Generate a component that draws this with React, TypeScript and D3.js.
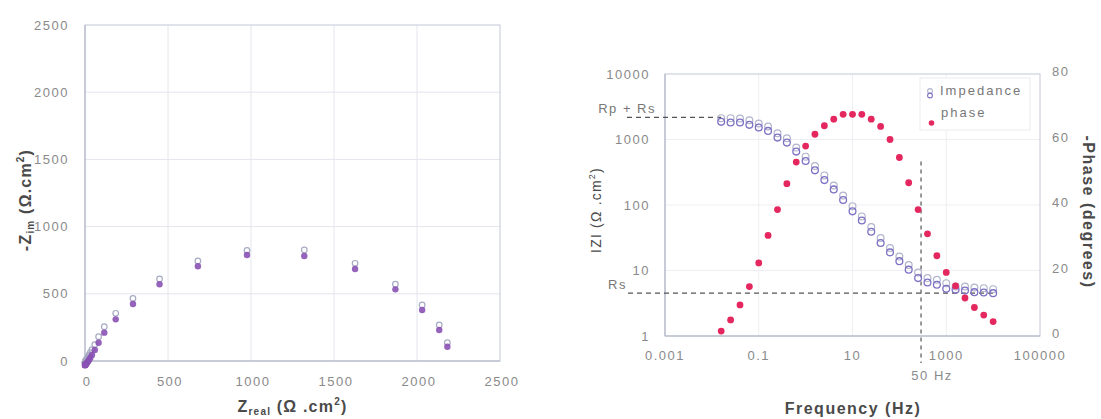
import React, { useEffect, useRef } from 'react';
import * as d3 from 'd3';

// Nyquist plot (left)
const nyqReal = [2183, 2134, 2031, 1870, 1627, 1321, 976, 680, 449, 289, 185, 116, 82, 59, 42, 32, 25, 19, 14, 10, 7, 5, 4, 3, 2, 1.5, 1, 0.5, 0.2, 0];
const nyqImFit = [106, 231, 379, 533, 684, 781, 789, 705, 571, 424, 310, 211, 136, 82, 45, 25, 10, -2, -10, -16, -20, -23, -25, -27, -28, -29, -30, -30, -31, -31];
const nyqImMeas = [136, 268, 417, 571, 727, 826, 823, 744, 610, 466, 355, 255, 181, 122, 85, 62, 45, 32, 22, 14, 8, 4, 0, -3, -6, -8, -10, -11, -12, -13];
const nyqTicks = [0, 500, 1000, 1500, 2000, 2500];

// Bode plot (right)
const freq = [0.0158, 0.0251, 0.0398, 0.0631, 0.1, 0.158, 0.251, 0.398, 0.631, 1, 1.58, 2.51, 3.98, 6.31, 10, 15.8, 25.1, 39.8, 63.1, 100, 158, 251, 398, 631, 1000, 1580, 2510, 3980, 6310, 10000];
const zMeas = [2118, 2118, 2093, 1972, 1754, 1578, 1247, 1045, 752, 547, 394, 283, 199, 140, 96, 67, 46, 31.4, 22.1, 16.4, 12.1, 9.3, 7.65, 7.21, 6.41, 5.7, 5.7, 5.51, 5.38, 5.19];
const zFit = [1860, 1816, 1816, 1673, 1523, 1354, 1070, 897, 653, 470, 338, 240, 173, 119, 80, 58, 39, 26.3, 18.9, 13.9, 10.3, 7.65, 6.57, 6.05, 5.25, 5.07, 4.95, 4.67, 4.61, 4.51];
const phase = [1.5, 4.9, 9.5, 15.1, 22.3, 30.7, 38.6, 46.5, 53.1, 58.0, 61.6, 64.2, 66.2, 67.7, 67.7, 67.7, 66.2, 64.0, 60.0, 54.5, 46.8, 38.6, 31.2, 24.5, 19.4, 15.3, 11.6, 8.7, 6.4, 4.4];
const freqTicks = [0.001, 0.1, 10, 1000, 100000];
const freqLabels = ['0.001', '0.1', '10', '1000', '100000'];
const zTicks = [1, 10, 100, 1000, 10000];
const phaseTicks = [0, 20, 40, 60, 80];
const rpRs = 2170;
const rs = 4.5;
const markFreq = 290;
const markTopZ = 460;

const FONT = '"Liberation Sans", Arial, sans-serif';
const TICK = '#8a8a8a';
const TITLE = '#4a4a4a';

const App = () => {
  const ref = useRef<SVGSVGElement>(null);

  useEffect(() => {
    const svg = d3.select(ref.current);
    svg.selectAll('*').remove();
    svg.attr('font-family', FONT);

    // ---------- left: Nyquist ----------
    const xL = d3.scaleLinear().domain([0, 2500]).range([85, 500]);
    const yL = d3.scaleLinear().domain([0, 2500]).range([361, 25]);
    const L = svg.append('g');

    L.append('g').selectAll('line.v').data(nyqTicks.slice(1, -1)).join('line')
      .attr('x1', d => xL(d)).attr('x2', d => xL(d)).attr('y1', yL(0)).attr('y2', yL(2500))
      .attr('stroke', '#e4e5ee');
    L.append('g').selectAll('line.h').data(nyqTicks.slice(1, -1)).join('line')
      .attr('x1', xL(0)).attr('x2', xL(2500)).attr('y1', d => yL(d)).attr('y2', d => yL(d))
      .attr('stroke', '#e4e5ee');
    L.append('rect')
      .attr('x', xL(0)).attr('y', yL(2500)).attr('width', xL(2500) - xL(0)).attr('height', yL(0) - yL(2500))
      .attr('fill', 'none').attr('stroke', '#c4c7d6');
    L.append('line').attr('x1', xL(0)).attr('x2', xL(0)).attr('y1', yL(0)).attr('y2', yL(2500)).attr('stroke', '#aeb2c4');
    L.append('line').attr('x1', xL(0)).attr('x2', xL(2500)).attr('y1', yL(0)).attr('y2', yL(0)).attr('stroke', '#aeb2c4');

    L.append('g').selectAll('text').data(nyqTicks).join('text')
      .attr('x', 69).attr('y', d => yL(d) + 4.5).attr('text-anchor', 'end')
      .attr('font-size', 13).attr('letter-spacing', 1.5).attr('fill', TICK).text(d => d);
    L.append('g').selectAll('text').data(nyqTicks).join('text')
      .attr('x', d => xL(d) + 2).attr('y', 386).attr('text-anchor', 'middle')
      .attr('font-size', 13).attr('letter-spacing', 1.5).attr('fill', TICK).text(d => d);

    L.append('g').selectAll('circle').data(nyqReal).join('circle')
      .attr('cx', d => xL(d)).attr('cy', (d, i) => yL(nyqImMeas[i])).attr('r', 2.8)
      .attr('fill', 'none').attr('stroke', '#a7abc2').attr('stroke-width', 1.2);
    L.append('g').selectAll('circle').data(nyqReal).join('circle')
      .attr('cx', d => xL(d)).attr('cy', (d, i) => yL(nyqImFit[i])).attr('r', 3.2)
      .attr('fill', '#8a52b4').attr('opacity', 0.9);

    const xt = L.append('text').attr('x', (xL(0) + xL(2500)) / 2).attr('y', 412).attr('text-anchor', 'middle')
      .attr('font-size', 16).attr('font-weight', 'bold').attr('letter-spacing', 1.2).attr('fill', TITLE);
    xt.append('tspan').text('Z');
    xt.append('tspan').attr('font-size', 10).attr('dy', 3).text('real');
    xt.append('tspan').attr('dy', -3).text(' (Ω .cm');
    xt.append('tspan').attr('font-size', 10).attr('dy', -7).text('2');
    xt.append('tspan').attr('dy', 7).text(')');

    const yt = L.append('text').attr('transform', 'translate(31,200) rotate(-90)').attr('text-anchor', 'middle')
      .attr('font-size', 16).attr('font-weight', 'bold').attr('letter-spacing', 1.2).attr('fill', TITLE);
    yt.append('tspan').text('-Z');
    yt.append('tspan').attr('font-size', 10).attr('dy', 3).text('im');
    yt.append('tspan').attr('dy', -3).text(' (Ω.cm');
    yt.append('tspan').attr('font-size', 10).attr('dy', -7).text('2');
    yt.append('tspan').attr('dy', 7).text(')');

    // ---------- right: Bode ----------
    const xR = d3.scaleLog().domain([0.001, 100000]).range([665, 1040]);
    const yR = d3.scaleLog().domain([1, 10000]).range([336, 74]);
    const yP = d3.scaleLinear().domain([0, 80]).range([336, 74]);
    const R = svg.append('g');

    R.append('g').selectAll('line').data(freqTicks.slice(1, -1)).join('line')
      .attr('x1', d => xR(d)).attr('x2', d => xR(d)).attr('y1', yR(1)).attr('y2', yR(10000))
      .attr('stroke', '#efeff3');
    R.append('g').selectAll('line').data(zTicks.slice(1, -1)).join('line')
      .attr('x1', xR(0.001)).attr('x2', xR(100000)).attr('y1', d => yR(d)).attr('y2', d => yR(d))
      .attr('stroke', '#efeff3');
    R.append('rect')
      .attr('x', xR(0.001)).attr('y', yR(10000)).attr('width', xR(100000) - xR(0.001)).attr('height', yR(1) - yR(10000))
      .attr('fill', 'none').attr('stroke', '#c4c7d6');
    R.append('line').attr('x1', xR(0.001)).attr('x2', xR(100000)).attr('y1', yR(1)).attr('y2', yR(1)).attr('stroke', '#aeb2c4');
    R.append('line').attr('x1', xR(0.001)).attr('x2', xR(0.001)).attr('y1', yR(1)).attr('y2', yR(10000)).attr('stroke', '#aeb2c4');

    R.append('g').selectAll('text').data(freqTicks).join('text')
      .attr('x', d => xR(d)).attr('y', 360).attr('text-anchor', 'middle')
      .attr('font-size', 13).attr('letter-spacing', 1.5).attr('fill', TICK).text((d, i) => freqLabels[i]);
    R.append('g').selectAll('text').data(zTicks).join('text')
      .attr('x', 650).attr('y', d => yR(d) + 4.5).attr('text-anchor', 'end')
      .attr('font-size', 13).attr('letter-spacing', 1.5).attr('fill', TICK).text(d => d);
    R.append('g').selectAll('text').data(phaseTicks).join('text')
      .attr('x', 1052).attr('y', d => yP(d) + 2).attr('text-anchor', 'start')
      .attr('font-size', 13).attr('letter-spacing', 1.5).attr('fill', TICK).text(d => d);

    // reference lines
    const dash = { stroke: '#555', 'stroke-width': 1.2, 'stroke-dasharray': '5,4' };
    const l1 = R.append('line').attr('x1', 627).attr('x2', xR(freq[0])).attr('y1', yR(rpRs)).attr('y2', yR(rpRs));
    const l2 = R.append('line').attr('x1', 628).attr('x2', xR(freq[freq.length - 1]) + 4).attr('y1', yR(rs)).attr('y2', yR(rs));
    [l1, l2].forEach(l => Object.entries(dash).forEach(([k, v]) => l.attr(k, v)));
    R.append('line').attr('x1', xR(markFreq)).attr('x2', xR(markFreq)).attr('y1', yR(markTopZ)).attr('y2', yR(1) + 27)
      .attr('stroke', '#555').attr('stroke-width', 1.2).attr('stroke-dasharray', '4,4');

    R.append('text').attr('x', 656).attr('y', 113).attr('text-anchor', 'end')
      .attr('font-size', 13).attr('letter-spacing', 1.5).attr('fill', '#777').text('Rp + Rs');
    R.append('text').attr('x', 627).attr('y', yR(rs) - 4).attr('text-anchor', 'end')
      .attr('font-size', 13).attr('letter-spacing', 1.5).attr('fill', '#777').text('Rs');
    R.append('text').attr('x', xR(markFreq) + 11).attr('y', 380).attr('text-anchor', 'middle')
      .attr('font-size', 13).attr('letter-spacing', 1.5).attr('fill', TICK).text('50 Hz');

    // data
    R.append('g').selectAll('circle').data(freq).join('circle')
      .attr('cx', d => xR(d)).attr('cy', (d, i) => yR(zMeas[i])).attr('r', 3.4)
      .attr('fill', 'none').attr('stroke', '#b0b4cc').attr('stroke-width', 1.2);
    R.append('g').selectAll('circle').data(freq).join('circle')
      .attr('cx', d => xR(d)).attr('cy', (d, i) => yR(zFit[i])).attr('r', 3.4)
      .attr('fill', 'none').attr('stroke', '#7e70c4').attr('stroke-width', 1.3);
    R.append('g').selectAll('circle').data(freq).join('circle')
      .attr('cx', d => xR(d)).attr('cy', (d, i) => yP(phase[i])).attr('r', 3.4)
      .attr('fill', '#e4285f');

    // legend
    const lg = R.append('g');
    lg.append('rect').attr('x', 920).attr('y', 78).attr('width', 110).attr('height', 52)
      .attr('fill', 'white').attr('stroke', '#ececf0');
    lg.append('circle').attr('cx', 930).attr('cy', 91).attr('r', 2.4).attr('fill', 'none').attr('stroke', '#b0b4cc').attr('stroke-width', 1.1);
    lg.append('circle').attr('cx', 930).attr('cy', 95.5).attr('r', 2.4).attr('fill', 'none').attr('stroke', '#7e70c4').attr('stroke-width', 1.1);
    lg.append('circle').attr('cx', 931.5).attr('cy', 123).attr('r', 2.8).attr('fill', '#e4285f');
    lg.append('text').attr('x', 940).attr('y', 95).attr('font-size', 13).attr('letter-spacing', 2).attr('fill', '#777').text('Impedance');
    lg.append('text').attr('x', 941).attr('y', 117).attr('font-size', 13).attr('letter-spacing', 2).attr('fill', '#777').text('phase');

    // axis titles
    R.append('text').attr('x', 853).attr('y', 414).attr('text-anchor', 'middle')
      .attr('font-size', 16).attr('font-weight', 'bold').attr('letter-spacing', 1.5).attr('fill', TITLE).text('Frequency (Hz)');
    const zt = R.append('text').attr('transform', 'translate(601,210) rotate(-90)').attr('text-anchor', 'middle')
      .attr('font-size', 14).attr('letter-spacing', 1.2).attr('fill', TITLE);
    zt.append('tspan').text('IZI (Ω .cm');
    zt.append('tspan').attr('font-size', 9).attr('dy', -6).text('2');
    zt.append('tspan').attr('dy', 6).text(')');
    R.append('text').attr('transform', 'translate(1083,212) rotate(90)').attr('text-anchor', 'middle')
      .attr('font-size', 16).attr('font-weight', 'bold').attr('letter-spacing', 1.5).attr('fill', TITLE).text('-Phase (degrees)');
  }, []);

  return (
    <svg ref={ref} width={1101} height={419} style={{ position: 'absolute', left: 0, top: 0, background: 'white' }} />
  );
};

export default App;
